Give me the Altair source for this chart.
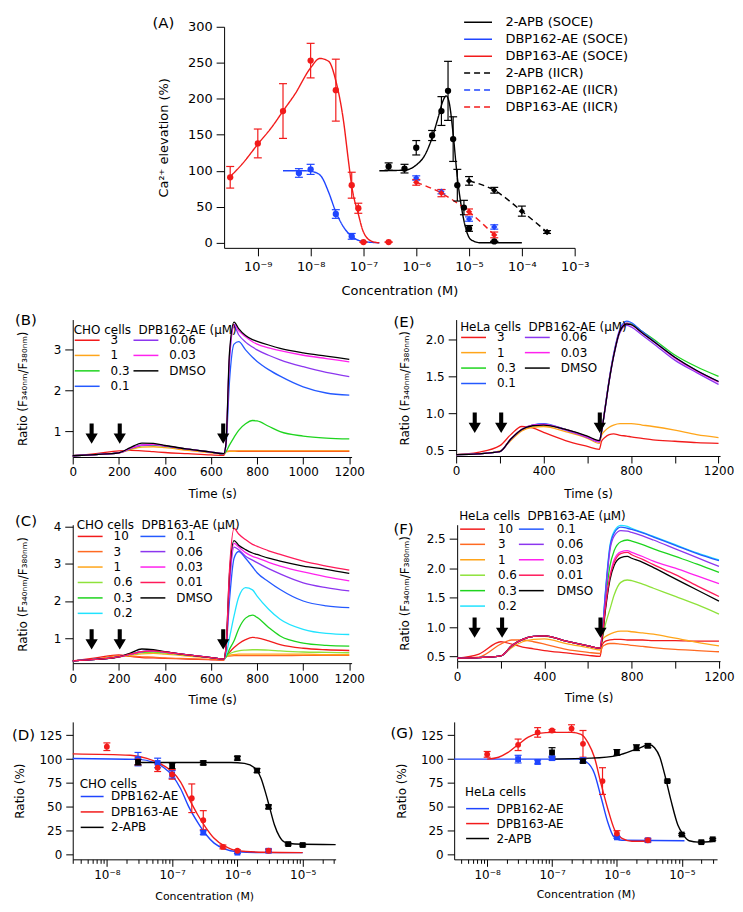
import altair as alt
import pandas as pd

FONT = "DejaVu Sans"
RED = "#f21b1b"
BLUE = "#1f45ff"
BLACK = "#000000"
ORANGE_RED = "#ff6a22"
ORANGE = "#ffa51a"
YGREEN = "#8ee23a"
GREEN = "#1ed41e"
CYAN = "#20e3ff"
TBLUE = "#2459ff"
PURPLE = "#8c36ef"
MAGENTA = "#ff22ee"
CRIMSON = "#ff1a5a"

ARROW = "M-0.2,-1L0.2,-1L0.2,0L0.6,0L0,1L-0.6,0L-0.2,0Z"
DECADE = "abs(log(datum.value)/LN10 - round(log(datum.value)/LN10)) < 0.01"
SUP = "['⁻¹⁰','⁻⁹','⁻⁸','⁻⁷','⁻⁶','⁻⁵','⁻⁴','⁻³'][round(log(datum.value)/LN10) + 10]"
LOG_LABEL = DECADE + " ? '10' + " + SUP + " : ''"
RATIO = "Ratio (F₃₄₀ₙₘ/F₃₈₀ₙₘ)"

# ---------------- Panel A ----------------
A_SERIES = ["2-APB (SOCE)", "DBP162-AE (SOCE)", "DBP163-AE (SOCE)",
            "2-APB (IICR)", "DBP162-AE (IICR)", "DBP163-AE (IICR)"]
A_COLORS = [BLACK, BLUE, RED, BLACK, BLUE, RED]
A_DASH = [[1, 0], [1, 0], [1, 0], [6, 4], [6, 4], [6, 4]]
A_SHAPES = ["circle", "circle", "circle", "diamond", "diamond", "diamond"]

A163_X = [3e-10, 1e-9, 3e-9, 1e-8, 3e-8, 6e-8, 8e-8, 1e-7, 3e-7]
A163_Y = [91, 138, 183, 253, 212, 80, 48, 1, 1]
A163_E = [15, 20, 38, 24, 43, 18, 7, 0, 0]
A162_X = [6e-9, 1e-8, 3e-8, 6e-8]
A162_Y = [97, 102, 40, 9]
A162_E = [6, 7, 6, 4]
AAPB_X = [3e-7, 6e-7, 1e-6, 2e-6, 3e-6, 4e-6, 5e-6, 6e-6, 8e-6, 1e-5, 3e-5]
AAPB_Y = [106, 103, 132, 149, 183, 211, 144, 80, 49, 20, 2]
AAPB_E = [5, 6, 10, 7, 20, 41, 31, 22, 10, 4, 0]
AAPBI_X = [1e-5, 3e-5, 1e-4, 3e-4]
AAPBI_Y = [86, 73, 44, 15]
AAPBI_E = [6, 4, 7, 2]
A162I_X = [1e-6, 3e-6, 1e-5, 3e-5]
A162I_Y = [90, 71, 33, 22]
A162I_E = [3, 3, 3, 3]
A163I_X = [1e-6, 3e-6, 1e-5, 3e-5]
A163I_Y = [84, 69, 43, 11]
A163I_E = [4, 5, 4, 4]

FIT163_X = [3e-10, 5e-10, 1e-9, 1.9e-9, 3e-9, 5e-9, 1e-8, 1.5e-8, 2.2e-8, 3e-8,
            4.2e-8, 5.2e-8, 6e-8, 8e-8, 1e-7, 1.45e-7, 2e-7]
FIT163_Y = [92, 109, 137, 162, 183, 206, 243, 256, 252, 225, 169, 114, 79, 40, 15, 2, 0]
FIT162_X = [3e-9, 8e-9, 1.2e-8, 1.6e-8, 2.2e-8, 3e-8, 4.2e-8, 6e-8, 9e-8, 2e-7]
FIT162_Y = [100, 100, 98, 92, 70, 43, 22, 9, 2.5, 0]
FITAPB_X = [2e-7, 6e-7, 1e-6, 1.46e-6, 2e-6, 2.6e-6, 3.2e-6, 3.7e-6, 4.2e-6, 5e-6,
            6e-6, 7.2e-6, 8.9e-6, 1.1e-5, 1.7e-5, 1e-4]
FITAPB_Y = [100, 101, 108, 122, 146, 174, 197, 204, 195, 151, 91, 49, 17, 4, 0, 0]

# ---------------- Traces (B, C, E, F) ----------------
T = [0, 100, 200, 250, 300, 350, 400, 500, 600, 655, 665, 680, 700, 720, 750, 780,
     800, 850, 900, 1000, 1100, 1200]

B_3 = [0.40, 0.45, 0.52, 0.53, 0.52, 0.50, 0.48, 0.45, 0.42, 0.41, 0.50, 0.51, 0.51, 0.51, 0.51, 0.51, 0.51, 0.51, 0.51, 0.51, 0.51, 0.51]
B_1 = [0.40, 0.43, 0.47, 0.55, 0.61, 0.62, 0.60, 0.53, 0.47, 0.44, 0.50, 0.51, 0.51, 0.52, 0.52, 0.52, 0.52, 0.52, 0.52, 0.52, 0.52, 0.52]
B_03 = [0.40, 0.43, 0.47, 0.57, 0.65, 0.66, 0.63, 0.56, 0.49, 0.45, 0.50, 0.66, 0.85, 1.02, 1.18, 1.26, 1.25, 1.12, 0.99, 0.88, 0.83, 0.81]
B_01 = [0.40, 0.43, 0.47, 0.58, 0.66, 0.67, 0.64, 0.56, 0.49, 0.45, 0.65, 2.20, 3.12, 3.18, 2.98, 2.80, 2.70, 2.50, 2.34, 2.08, 1.93, 1.88]
B_006 = [0.40, 0.43, 0.47, 0.58, 0.66, 0.67, 0.64, 0.56, 0.49, 0.45, 0.70, 2.70, 3.55, 3.35, 3.17, 3.05, 2.98, 2.85, 2.74, 2.57, 2.43, 2.33]
B_003 = [0.40, 0.43, 0.47, 0.58, 0.66, 0.68, 0.64, 0.56, 0.49, 0.45, 0.70, 2.80, 3.60, 3.45, 3.30, 3.18, 3.12, 3.03, 2.96, 2.85, 2.77, 2.69]
B_DMSO = [0.40, 0.43, 0.47, 0.60, 0.71, 0.70, 0.65, 0.56, 0.49, 0.45, 0.70, 2.90, 3.66, 3.50, 3.33, 3.23, 3.19, 3.10, 3.02, 2.91, 2.83, 2.75]

C_10 = [0.39, 0.47, 0.55, 0.51, 0.48, 0.47, 0.46, 0.44, 0.42, 0.41, 0.50, 0.62, 0.75, 0.85, 0.96, 1.02, 1.01, 0.93, 0.83, 0.73, 0.69, 0.67]
C_3 = [0.39, 0.44, 0.53, 0.52, 0.50, 0.49, 0.47, 0.45, 0.43, 0.42, 0.50, 0.52, 0.53, 0.53, 0.53, 0.53, 0.53, 0.53, 0.53, 0.54, 0.54, 0.54]
C_1 = [0.39, 0.43, 0.50, 0.54, 0.58, 0.59, 0.57, 0.52, 0.47, 0.44, 0.50, 0.54, 0.56, 0.57, 0.57, 0.57, 0.57, 0.57, 0.57, 0.57, 0.56, 0.56]
C_06 = [0.39, 0.43, 0.50, 0.56, 0.61, 0.62, 0.60, 0.54, 0.48, 0.44, 0.50, 0.58, 0.63, 0.66, 0.68, 0.69, 0.69, 0.68, 0.66, 0.63, 0.62, 0.61]
C_03 = [0.39, 0.43, 0.50, 0.57, 0.63, 0.65, 0.62, 0.55, 0.48, 0.44, 0.50, 0.70, 0.93, 1.25, 1.54, 1.62, 1.56, 1.29, 1.06, 0.87, 0.81, 0.79]
C_02 = [0.39, 0.43, 0.50, 0.57, 0.64, 0.66, 0.63, 0.55, 0.48, 0.44, 0.55, 1.00, 1.60, 2.10, 2.36, 2.30, 2.13, 1.78, 1.51, 1.24, 1.13, 1.10]
C_01 = [0.39, 0.43, 0.50, 0.57, 0.64, 0.66, 0.63, 0.55, 0.48, 0.44, 0.70, 2.00, 3.15, 3.33, 3.15, 2.92, 2.76, 2.52, 2.31, 2.00, 1.87, 1.82]
C_006 = [0.39, 0.43, 0.50, 0.57, 0.64, 0.66, 0.63, 0.55, 0.48, 0.44, 0.70, 2.40, 3.45, 3.38, 3.20, 3.10, 3.03, 2.87, 2.73, 2.49, 2.36, 2.27]
C_003 = [0.39, 0.43, 0.50, 0.57, 0.64, 0.66, 0.63, 0.55, 0.48, 0.44, 0.70, 2.50, 3.55, 3.45, 3.30, 3.20, 3.16, 3.04, 2.94, 2.78, 2.65, 2.54]
C_001 = [0.39, 0.43, 0.50, 0.57, 0.64, 0.66, 0.63, 0.55, 0.48, 0.44, 0.75, 2.80, 3.95, 3.80, 3.65, 3.52, 3.47, 3.35, 3.25, 3.07, 2.94, 2.83]
C_DMSO = [0.39, 0.43, 0.50, 0.60, 0.71, 0.69, 0.64, 0.55, 0.48, 0.44, 0.75, 2.70, 3.62, 3.50, 3.38, 3.29, 3.25, 3.15, 3.07, 2.94, 2.85, 2.74]

E_3 = [0.44, 0.47, 0.56, 0.71, 0.82, 0.80, 0.74, 0.63, 0.55, 0.51, 0.62, 0.67, 0.71, 0.72, 0.70, 0.69, 0.68, 0.66, 0.64, 0.62, 0.60, 0.59]
E_1 = [0.44, 0.45, 0.49, 0.63, 0.76, 0.81, 0.82, 0.75, 0.66, 0.59, 0.70, 0.76, 0.81, 0.84, 0.86, 0.86, 0.86, 0.84, 0.82, 0.77, 0.71, 0.67]
E_03 = [0.44, 0.45, 0.48, 0.65, 0.78, 0.84, 0.85, 0.78, 0.68, 0.62, 0.75, 1.05, 1.45, 1.78, 2.12, 2.22, 2.21, 2.11, 2.01, 1.79, 1.63, 1.50]
E_01 = [0.44, 0.45, 0.48, 0.65, 0.78, 0.84, 0.86, 0.78, 0.68, 0.62, 0.75, 1.05, 1.46, 1.80, 2.15, 2.25, 2.23, 2.11, 1.99, 1.76, 1.58, 1.43]
E_006 = [0.44, 0.45, 0.48, 0.65, 0.78, 0.84, 0.85, 0.77, 0.67, 0.61, 0.75, 1.03, 1.43, 1.76, 2.10, 2.19, 2.17, 2.06, 1.95, 1.72, 1.55, 1.39]
E_003 = [0.44, 0.45, 0.48, 0.65, 0.78, 0.84, 0.85, 0.78, 0.68, 0.62, 0.75, 1.05, 1.45, 1.78, 2.13, 2.22, 2.20, 2.09, 1.98, 1.75, 1.57, 1.42]
E_DMSO = [0.44, 0.45, 0.48, 0.65, 0.78, 0.83, 0.84, 0.78, 0.69, 0.63, 0.75, 1.04, 1.44, 1.77, 2.12, 2.21, 2.20, 2.09, 1.98, 1.76, 1.58, 1.43]

F_10 = [0.47, 0.54, 0.75, 0.71, 0.66, 0.63, 0.60, 0.56, 0.52, 0.50, 0.70, 0.76, 0.78, 0.79, 0.79, 0.78, 0.78, 0.78, 0.77, 0.77, 0.76, 0.76]
F_3 = [0.47, 0.49, 0.71, 0.78, 0.78, 0.75, 0.71, 0.62, 0.57, 0.55, 0.66, 0.70, 0.72, 0.72, 0.71, 0.70, 0.69, 0.67, 0.65, 0.62, 0.60, 0.58]
F_1 = [0.47, 0.48, 0.51, 0.65, 0.75, 0.79, 0.80, 0.72, 0.65, 0.61, 0.78, 0.84, 0.88, 0.91, 0.93, 0.93, 0.92, 0.90, 0.88, 0.81, 0.74, 0.68]
F_06 = [0.47, 0.48, 0.51, 0.68, 0.79, 0.84, 0.84, 0.76, 0.68, 0.64, 0.80, 1.05, 1.30, 1.55, 1.76, 1.80, 1.79, 1.73, 1.66, 1.52, 1.38, 1.22]
F_03 = [0.47, 0.48, 0.51, 0.68, 0.79, 0.84, 0.85, 0.76, 0.68, 0.64, 0.85, 1.45, 2.03, 2.30, 2.45, 2.48, 2.46, 2.40, 2.33, 2.20, 2.07, 1.93]
F_02 = [0.47, 0.48, 0.51, 0.68, 0.79, 0.84, 0.85, 0.76, 0.68, 0.64, 0.90, 1.62, 2.38, 2.63, 2.73, 2.71, 2.68, 2.61, 2.54, 2.40, 2.26, 2.14]
F_01 = [0.47, 0.48, 0.51, 0.68, 0.79, 0.84, 0.85, 0.76, 0.68, 0.64, 0.90, 1.60, 2.35, 2.60, 2.70, 2.68, 2.66, 2.60, 2.53, 2.39, 2.25, 2.13]
F_006 = [0.47, 0.48, 0.51, 0.68, 0.79, 0.84, 0.85, 0.76, 0.68, 0.64, 0.90, 1.55, 2.30, 2.55, 2.64, 2.63, 2.61, 2.55, 2.48, 2.33, 2.18, 2.03]
F_003 = [0.47, 0.48, 0.51, 0.68, 0.79, 0.84, 0.85, 0.76, 0.68, 0.64, 0.85, 1.35, 1.85, 2.15, 2.28, 2.30, 2.27, 2.20, 2.12, 2.00, 1.87, 1.74]
F_001 = [0.47, 0.48, 0.51, 0.68, 0.79, 0.84, 0.85, 0.76, 0.68, 0.64, 0.85, 1.35, 1.85, 2.10, 2.25, 2.27, 2.23, 2.15, 2.06, 1.89, 1.70, 1.52]
F_DMSO = [0.47, 0.48, 0.51, 0.68, 0.79, 0.84, 0.85, 0.76, 0.68, 0.64, 0.80, 1.30, 1.80, 2.05, 2.18, 2.20, 2.17, 2.10, 2.01, 1.82, 1.63, 1.44]

ARROW_T_BC = [82, 204, 653]
ARROW_T_E = [85, 206, 657]
ARROW_T_F = [80, 206, 657]

# ---------------- Panel D & G ----------------
DG_SERIES = ["DPB162-AE", "DPB163-AE", "2-APB"]
DG_COLORS = [BLUE, RED, BLACK]
DG_SHAPES = ["square", "circle", "square"]

D162_X = [3e-8, 6e-8, 1e-7, 3e-7, 1e-6, 3e-6]
D162_Y = [100, 96, 84, 23, 2, 4]
D162_E = [7, 5, 4, 2, 1, 1]
D163_X = [1e-8, 3e-8, 6e-8, 1e-7, 2e-7, 3e-7, 6e-7, 1e-6, 3e-6]
D163_Y = [113, 98, 91, 84, 59, 36, 8, 4, 4]
D163_E = [4, 4, 4, 5, 15, 10, 2, 1, 2]
DAPB_X = [3e-8, 1e-7, 3e-7, 1e-6, 2e-6, 3e-6, 6e-6, 1e-5]
DAPB_Y = [97, 93, 96, 101, 88, 50, 11, 10]
DAPB_E = [3, 3, 2, 2, 2, 2, 1, 1]
DFIT162_X = [3e-9, 3.1e-8, 5.2e-8, 7.5e-8, 1e-7, 1.35e-7, 1.8e-7, 2.45e-7, 3.3e-7, 4.4e-7, 6.3e-7, 1e-6, 2.6e-6, 1e-5]
DFIT162_Y = [100.7, 99.7, 96.5, 91, 83, 69, 50, 34, 21, 12, 6, 3, 2, 2]
DFIT163_X = [3e-9, 2.3e-8, 4.1e-8, 7.5e-8, 1e-7, 1.35e-7, 1.8e-7, 2.45e-7, 3.3e-7, 4.4e-7, 6.3e-7, 1e-6, 2.6e-6, 1e-5]
DFIT163_Y = [105.5, 104, 100.7, 93, 87, 76, 59, 42, 28, 17, 9, 4, 2.4, 2]
DFITAPB_X = [3e-8, 8e-7, 1.28e-6, 1.83e-6, 2.3e-6, 2.76e-6, 3.1e-6, 3.7e-6, 4.4e-6, 5.3e-6, 7.6e-6, 3.2e-5]
DFITAPB_Y = [96.5, 96.5, 95.5, 91, 80, 62.5, 50, 31, 19, 13, 11, 10.4]

G162_X = [3e-8, 6e-8, 1e-7, 3e-7, 1e-6, 3e-6]
G162_Y = [100, 97, 101, 99, 18, 15]
G162_E = [4, 2, 2, 2, 1, 1]
G163_X = [1e-8, 3e-8, 6e-8, 1e-7, 2e-7, 3e-7, 6e-7, 1e-6, 3e-6]
G163_Y = [105, 115, 128, 130, 132, 116, 77, 22, 15]
G163_E = [3, 6, 5, 1, 4, 14, 14, 3, 2]
GAPB_X = [1e-7, 3e-7, 1e-6, 2e-6, 3e-6, 6e-6, 1e-5, 2e-5, 3e-5]
GAPB_Y = [107, 98, 107, 112, 114, 77, 21, 13, 16]
GAPB_E = [5, 2, 3, 3, 2, 1, 1, 1, 1]
GFIT162_X = [3.1e-9, 2.5e-7, 3.4e-7, 4.5e-7, 5.7e-7, 7.3e-7, 8.9e-7, 1.2e-6, 1.1e-5]
GFIT162_Y = [100, 100, 97, 85, 60, 33, 19, 15, 14.5]
GFIT163_X = [1e-8, 1.5e-8, 2.1e-8, 3.1e-8, 4.3e-8, 6.2e-8, 1.04e-7, 2e-7, 2.8e-7, 3.6e-7, 4.5e-7, 5.7e-7, 7.3e-7, 9.2e-7, 1.2e-6, 1.7e-6, 3.1e-6]
GFIT163_Y = [100, 102, 107, 116, 123, 127, 128, 128, 126, 117, 102, 74, 47, 26, 17, 14, 14]
GFITAPB_X = [1e-7, 4e-7, 1.04e-6, 2.1e-6, 3.2e-6, 3.8e-6, 4.6e-6, 5.4e-6, 6.8e-6, 8.7e-6, 1.05e-5, 1.3e-5, 1.8e-5, 3.1e-5]
GFITAPB_Y = [100, 101, 104, 111, 115, 112, 102, 85, 57, 31, 21, 14.5, 13, 14]


# ---------------- helpers ----------------
def pts_frame(s, xs, ys, es):
    return pd.DataFrame({"c": xs, "v": ys, "lo": [y - e for y, e in zip(ys, es)],
                         "hi": [y + e for y, e in zip(ys, es)], "s": s})


def line_frame(s, xs, ys):
    return pd.DataFrame({"c": xs, "v": ys, "s": s})


def tag_layer(txt, dx, dy):
    return alt.Chart(pd.DataFrame({"lab": [txt]})).mark_text(
        font=FONT, fontSize=15, align="left", baseline="middle", color="black"
    ).encode(text="lab:N", x=alt.value(dx), y=alt.value(dy))


def marker(dx, dy):
    # invisible 1px text used only to fix the layout bounds of a row
    return alt.Chart(pd.DataFrame({"m": ["\u00a0"]})).mark_text(
        fontSize=1, align="left", baseline="top", opacity=0
    ).encode(text="m:N", x=alt.value(dx), y=alt.value(dy))


def markers(spec):
    return [marker(dx, dy) for dx, dy in spec]


def frame(w, h, spec):
    return alt.layer(*markers(spec)).properties(width=w, height=h)


def line_symbol(length, nominal):
    # horizontal legend line of `length` px drawn by a symbol whose layout size is `nominal` px
    h = length / nominal
    return "M-%.3f,0L%.3f,0" % (h, h)


def dose_layers(x, yaxis, yscale, fits, pts, domain, colors, shapes, cap=49, psize=34):
    cscale = alt.Scale(domain=domain, range=colors)
    col_no = alt.Color("s:N", scale=cscale, legend=None)
    layers = [fits]
    layers.append(alt.Chart(pts).mark_rule(strokeWidth=1.2).encode(
        x=x, y=alt.Y("lo:Q", scale=yscale, axis=yaxis), y2="hi:Q", color=col_no))
    for f in ["lo", "hi"]:
        layers.append(alt.Chart(pts).mark_point(shape="stroke", size=cap, strokeWidth=1.2, opacity=1).encode(
            x=x, y=alt.Y(f + ":Q", scale=yscale, axis=yaxis), color=col_no))
    layers.append(alt.Chart(pts).mark_point(filled=True, size=psize, opacity=1).encode(
        x=x, y=alt.Y("v:Q", scale=yscale, axis=yaxis), color=col_no,
        shape=alt.Shape("s:N", scale=alt.Scale(domain=domain, range=shapes), legend=None)))
    return layers


RES = dict(color="independent", strokeDash="independent", shape="independent")

# ---------------- Panel A chart ----------------
a_pts = pd.concat([
    pts_frame("DBP163-AE (SOCE)", A163_X, A163_Y, A163_E),
    pts_frame("DBP162-AE (SOCE)", A162_X, A162_Y, A162_E),
    pts_frame("2-APB (SOCE)", AAPB_X, AAPB_Y, AAPB_E),
    pts_frame("2-APB (IICR)", AAPBI_X, AAPBI_Y, AAPBI_E),
    pts_frame("DBP162-AE (IICR)", A162I_X, A162I_Y, A162I_E),
    pts_frame("DBP163-AE (IICR)", A163I_X, A163I_Y, A163I_E),
])
a_lines = pd.concat([
    line_frame("2-APB (SOCE)", FITAPB_X, FITAPB_Y),
    line_frame("DBP162-AE (SOCE)", FIT162_X, FIT162_Y),
    line_frame("DBP163-AE (SOCE)", FIT163_X, FIT163_Y),
    line_frame("2-APB (IICR)", AAPBI_X, AAPBI_Y),
    line_frame("DBP163-AE (IICR)", A163I_X, A163I_Y),
])

a_x = alt.X("c:Q", scale=alt.Scale(type="log", domain=[2.3e-10, 1e-3], nice=False),
            axis=alt.Axis(values=[1e-9, 1e-8, 1e-7, 1e-6, 1e-5, 1e-4, 1e-3], labelExpr=LOG_LABEL,
                          title="Concentration (M)", titleY=43, titleBaseline="middle",
                          tickSize=8, labelFontSize=13, titleFontSize=13, labelPadding=5,
                          labelOverlap=False, labelFlush=False))
a_yscale = alt.Scale(domain=[-7, 300], nice=False, zero=False)
a_yaxis = alt.Axis(values=[0, 50, 100, 150, 200, 250, 300], title="Ca²⁺ elevation (%)",
                   titleX=-61, titleBaseline="middle", tickSize=8, labelFontSize=13,
                   titleFontSize=13, labelPadding=4)
A_LEGEND = alt.Legend(orient="none", legendX=240, legendY=-14, title=None,
                      symbolType=line_symbol(28, 17), symbolSize=289, symbolOffset=5.5,
                      symbolStrokeWidth=1.5, labelFont=FONT, labelFontSize=13,
                      labelColor="black", labelOffset=18, rowPadding=0, padding=0, labelLimit=300)
a_fit = alt.Chart(a_lines).mark_line(strokeWidth=1.4, interpolate="monotone").encode(
    x=a_x, y=alt.Y("v:Q", scale=a_yscale, axis=a_yaxis),
    color=alt.Color("s:N", scale=alt.Scale(domain=A_SERIES, range=A_COLORS), legend=A_LEGEND),
    strokeDash=alt.StrokeDash("s:N", scale=alt.Scale(domain=A_SERIES, range=A_DASH), legend=A_LEGEND))
a_layers = dose_layers(a_x, a_yaxis, a_yscale, a_fit, a_pts, A_SERIES, A_COLORS, A_SHAPES,
                       cap=64, psize=40)
panel_a = alt.layer(*a_layers, tag_layer("(A)", -72, -4)).resolve_scale(**RES).properties(
    width=352, height=222)


# ---------------- trace panels ----------------
def trace_panel(tag, tag_dx, tag_dy, traces, colors, legend_order, draw_order, ydom, yvals, yfmt,
                xdom, width, height, label_step, arrow_t, arrow_y, leg, title_x, title_y, extra=()):
    x = alt.X("t:Q", scale=alt.Scale(domain=xdom, nice=False, zero=False),
              axis=alt.Axis(values=[0, 200, 400, 600, 800, 1000, 1200], format="d",
                            labelExpr="datum.value % " + str(label_step) + " == 0 ? datum.label : ''",
                            title="Time (s)", titleY=title_y, titleBaseline="middle", tickSize=7,
                            labelPadding=3, labelFlush=False, labelOverlap=False))
    y = alt.Y("v:Q", scale=alt.Scale(domain=ydom, nice=False, zero=False),
              axis=alt.Axis(values=yvals, format=yfmt, title=RATIO, titleX=title_x,
                            titleBaseline="middle", tickSize=8, labelPadding=4, labelFlush=False))
    color = alt.Color("s:N", scale=alt.Scale(domain=legend_order, range=[colors[k] for k in legend_order]),
                      legend=leg)
    layers = [alt.Chart(pd.DataFrame({"t": T, "v": traces[k], "s": k})).mark_line(
        strokeWidth=1.3, interpolate="monotone").encode(x=x, y=y, color=color) for k in draw_order]
    arrows = alt.Chart(pd.DataFrame({"t": arrow_t, "v": arrow_y})).mark_point(
        shape=ARROW, size=420, filled=True, color="black", opacity=1, strokeWidth=0).encode(x=x, y=y)
    return alt.layer(*layers, arrows, tag_layer(tag, tag_dx, tag_dy), *markers(extra)).properties(
        width=width, height=height)


def trace_legend(title, lx, ly, colpad, offset, tpad):
    return alt.Legend(orient="none", legendX=lx, legendY=ly, columns=2, title=title,
                      titleFont=FONT, titleFontSize=12, titleFontWeight="normal", titleColor="black",
                      titlePadding=tpad, titleLimit=400, labelFont=FONT, labelFontSize=12,
                      labelColor="black", labelOffset=offset + 10, symbolType=line_symbol(25, 15),
                      symbolSize=225, symbolOffset=5, symbolStrokeWidth=1.5, rowPadding=0.5,
                      columnPadding=colpad, padding=0)


NB = "\u00a0\u00a0"
B_TR = {"3": B_3, "1": B_1, "0.3": B_03, "0.1": B_01, "0.06": B_006, "0.03": B_003, "DMSO": B_DMSO}
B_COL = {"3": RED, "1": ORANGE, "0.3": GREEN, "0.1": TBLUE, "0.06": PURPLE, "0.03": MAGENTA, "DMSO": BLACK}
B_ORDER = ["3", "1", "0.3", "0.1", "0.06", "0.03", "DMSO"]

C_TR = {"10": C_10, "3": C_3, "1": C_1, "0.6": C_06, "0.3": C_03, "0.2": C_02, "0.1": C_01,
        "0.06": C_006, "0.03": C_003, "0.01": C_001, "DMSO": C_DMSO}
F_TR = {"10": F_10, "3": F_3, "1": F_1, "0.6": F_06, "0.3": F_03, "0.2": F_02, "0.1": F_01,
        "0.06": F_006, "0.03": F_003, "0.01": F_001, "DMSO": F_DMSO}
C_COL = {"10": RED, "3": ORANGE_RED, "1": ORANGE, "0.6": YGREEN, "0.3": GREEN, "0.2": CYAN,
         "0.1": TBLUE, "0.06": PURPLE, "0.03": MAGENTA, "0.01": CRIMSON, "DMSO": BLACK}
C_ORDER = ["10", "3", "1", "0.6", "0.3", "0.2", "0.1", "0.06", "0.03", "0.01", "DMSO"]
C_DRAW = ["10", "3", "1", "0.6", "0.3", "0.2", "0.1", "0.06", "0.03", "DMSO", "0.01"]
E_TR = {"3": E_3, "1": E_1, "0.3": E_03, "0.1": E_01, "0.06": E_006, "0.03": E_003, "DMSO": E_DMSO}

panel_b = trace_panel("(B)", -58, 0, B_TR, B_COL, B_ORDER, B_ORDER, [0.37, 3.72], [1, 2, 3], "d",
                      [0, 1210], 280, 138, 200, ARROW_T_BC, [0.94, 0.94, 0.94],
                      trace_legend("CHO cells" + NB + "DPB162-AE (µM)", 1, 5, -1, 5, -5), -50, 37,
                      extra=[(-62, -13), (-62, 185)])
panel_c = trace_panel("(C)", -58, -4, C_TR, C_COL, C_ORDER, C_DRAW, [0.33, 4.05], [1, 2, 3, 4], "d",
                      [0, 1210], 280, 139, 200, ARROW_T_BC, [0.97, 0.97, 0.97],
                      trace_legend("CHO cells" + NB + "DPB163-AE (µM)", 4, -5, 3, 5, -4), -50, 37,
                      extra=[(-62, -20), (-62, 184)])
panel_e = trace_panel("(E)", -63, 2, E_TR, B_COL, B_ORDER, B_ORDER, [0.42, 2.27], [0.5, 1.0, 1.5, 2.0], ".1f",
                      [0, 1207], 265, 137, 400, ARROW_T_E, [0.87, 0.87, 0.87],
                      trace_legend("HeLa cells" + NB + "DPB162-AE (µM)", 4, 2.7, 4, 5, -5.5), -52, 38)
panel_f = trace_panel("(F)", -64, 4, F_TR, C_COL, C_ORDER, C_DRAW, [0.42, 2.74],
                      [0.5, 1.0, 1.5, 2.0, 2.5], ".1f",
                      [0, 1205], 264, 137, 400, ARROW_T_F, [0.99, 0.99, 0.99],
                      trace_legend("HeLa cells" + NB + "DPB163-AE (µM)", 2, -14, -8, 7, -2.3), -53, 37)


# ---------------- dose panels ----------------
def dose_panel(tag, tag_dx, tag_dy, fit_df, pts_df, xdom, cell, lx, ly, tpad, rpad, title_x, title_y,
               extra=()):
    ticks = [m * 10.0 ** k for k in range(-9, -3) for m in range(1, 10)]
    ticks = [t for t in ticks if xdom[0] * 0.999 <= t <= xdom[1] * 1.001]
    x = alt.X("c:Q", scale=alt.Scale(type="log", domain=xdom, nice=False),
              axis=alt.Axis(values=ticks, labelExpr=LOG_LABEL,
                            tickSize={"condition": {"test": DECADE, "value": 7}, "value": 4},
                            title="Concentration (M)", titleFontSize=11, titleY=title_y,
                            titleBaseline="middle", labelOverlap=False, labelFlush=False, labelPadding=3))
    yscale = alt.Scale(domain=[-5, 139], nice=False, zero=False)
    yaxis = alt.Axis(values=[0, 25, 50, 75, 100, 125], title="Ratio (%)", titleX=title_x,
                     titleBaseline="middle", tickSize=7, labelPadding=4)
    leg = alt.Legend(orient="none", legendX=lx, legendY=ly, title=cell, titleFont=FONT, titleFontSize=12,
                     titleFontWeight="normal", titleColor="black", titlePadding=tpad, labelFont=FONT,
                     labelFontSize=12, labelColor="black", labelOffset=10.5,
                     symbolType=line_symbol(23, 15), symbolSize=225, symbolOffset=4,
                     symbolStrokeWidth=1.5, rowPadding=rpad, padding=0)
    cscale = alt.Scale(domain=DG_SERIES, range=DG_COLORS)
    fits = alt.Chart(fit_df).mark_line(strokeWidth=1.4, interpolate="monotone").encode(
        x=x, y=alt.Y("v:Q", scale=yscale, axis=yaxis), color=alt.Color("s:N", scale=cscale, legend=leg))
    layers = dose_layers(x, yaxis, yscale, fits, pts_df, DG_SERIES, DG_COLORS, DG_SHAPES)
    return alt.layer(*layers, tag_layer(tag, tag_dx, tag_dy), *markers(extra)).resolve_scale(**RES).properties(
        width=264, height=138)


d_fit = pd.concat([line_frame("DPB162-AE", DFIT162_X, DFIT162_Y),
                   line_frame("DPB163-AE", DFIT163_X, DFIT163_Y),
                   line_frame("2-APB", DFITAPB_X, DFITAPB_Y)])
d_pts = pd.concat([pts_frame("DPB162-AE", D162_X, D162_Y, D162_E),
                   pts_frame("DPB163-AE", D163_X, D163_Y, D163_E),
                   pts_frame("2-APB", DAPB_X, DAPB_Y, DAPB_E)])
g_fit = pd.concat([line_frame("DPB162-AE", GFIT162_X, GFIT162_Y),
                   line_frame("DPB163-AE", GFIT163_X, GFIT163_Y),
                   line_frame("2-APB", GFITAPB_X, GFITAPB_Y)])
g_pts = pd.concat([pts_frame("DPB162-AE", G162_X, G162_Y, G162_E),
                   pts_frame("DPB163-AE", G163_X, G163_Y, G163_E),
                   pts_frame("2-APB", GAPB_X, GAPB_Y, GAPB_E)])

panel_d = dose_panel("(D)", -61, 13, d_fit, d_pts, [3e-9, 3.2e-5], "CHO cells", 7, 57, -2.6, 0.5, -53, 37,
                     extra=[(-65, -13), (-65, 181)])
panel_g = dose_panel("(G)", -64, 11, g_fit, g_pts, [3.1e-9, 3.5e-5], "HeLa cells", 11, 65.6, 1, 0, -53, 35)

# rows: flush inside a row, rows stacked by their (marker-fixed) bounds
row1 = alt.hconcat(frame(1, 1, [(-62, -17), (-62, 280)]), panel_a, spacing=151,
                   bounds="flush").resolve_scale(**RES)
row2 = alt.hconcat(panel_b, panel_e, spacing=105, bounds="flush").resolve_scale(**RES)
row3 = alt.hconcat(panel_c, panel_f, spacing=106, bounds="flush").resolve_scale(**RES)
row4 = alt.hconcat(panel_d, panel_g, spacing=119, bounds="flush").resolve_scale(**RES)

chart = alt.vconcat(row1, row2, row3, row4, spacing=0).resolve_scale(**RES).properties(
    padding={"left": 0, "top": 0, "right": 0, "bottom": 0}
).configure_view(stroke=None).configure_axis(
    grid=False, domainColor="black", tickColor="black", labelColor="black", titleColor="black",
    labelFont=FONT, titleFont=FONT, titleFontWeight="normal", labelFontSize=12, titleFontSize=12,
    domainWidth=1, tickWidth=1
).configure_text(font=FONT)

chart.save("out.html", embed_options={"renderer": "svg", "actions": False})
